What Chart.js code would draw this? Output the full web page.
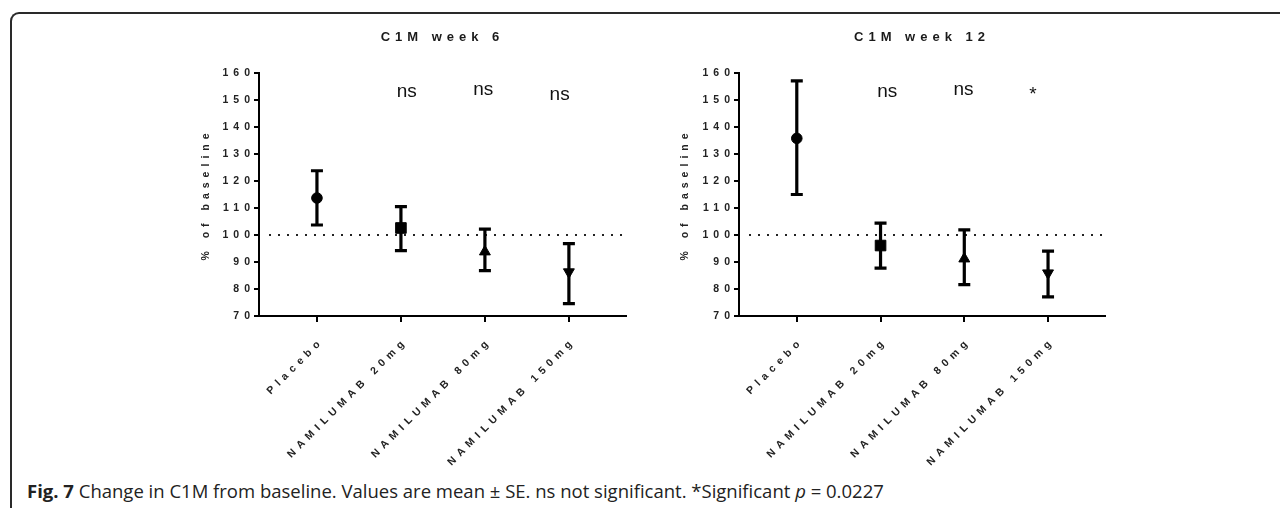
<!DOCTYPE html>
<html>
<head>
<meta charset="utf-8">
<script src="https://cdn.jsdelivr.net/npm/chart.js@4.4.1/dist/chart.umd.min.js"></script>
<style>
  html, body { margin: 0; padding: 0; background: #fff; width: 1280px; height: 508px; overflow: hidden; }
  #frame { position: absolute; left: 10px; top: 12px; width: 1300px; height: 520px;
           border-top: 2px solid #2a2a2a; border-left: 2px solid #2a2a2a; border-top-left-radius: 9px; box-sizing: border-box; }
  .wrap { position: absolute; top: 0; width: 485px; height: 476px; }
  #w1 { left: 150px; }
  #w2 { left: 632px; }
  #caption { position: absolute; left: 27px; top: 478px; font-family: "Open Sans", sans-serif; font-size: 18.5px;
             line-height: 25px; color: #222; white-space: nowrap; }
  #caption b { font-weight: 700; }
</style>
</head>
<body>
<div id="frame"></div>
<div class="wrap" id="w1"><canvas id="c1" width="485" height="476"></canvas></div>
<div class="wrap" id="w2"><canvas id="c2" width="485" height="476"></canvas></div>
<div id="caption"><b>Fig. 7</b> Change in C1M from baseline. Values are mean ± SE. ns not significant. *Significant <i>p</i> = 0.0227</div>
<script>
// ---- data ----
const categories = ['Placebo', 'NAMILUMAB 20mg', 'NAMILUMAB 80mg', 'NAMILUMAB 150mg'];
const yTickValues = [70, 80, 90, 100, 110, 120, 130, 140, 150, 160];
const baselineValue = 100;

const week6Mean  = [113.7, 102.6, 93.8, 86.3];
const week6Upper = [123.8, 110.5, 102.2, 96.8];
const week6Lower = [103.7, 94.2, 86.8, 74.6];
const week6SigText = ['ns', 'ns', 'ns'];
const week6SigX = [1.07, 1.98, 2.89];
const week6SigY = [151.1, 151.7, 150.0];

const week12Mean  = [135.8, 96.1, 91.2, 85.9];
const week12Upper = [157.1, 104.4, 101.9, 94.0];
const week12Lower = [115.0, 87.7, 81.6, 77.1];
const week12SigText = ['ns', 'ns', '*'];
const week12SigX = [1.08, 1.99, 2.82];
const week12SigY = [151.1, 151.7, 150.0];

// ---- helpers ----
const SPACING = '5px';
const spacingPlugin = {
  id: 'spacing',
  beforeUpdate(chart) { chart.ctx.letterSpacing = SPACING; },
  beforeLayout(chart) { chart.ctx.letterSpacing = SPACING; },
  beforeDraw(chart) { chart.ctx.letterSpacing = SPACING; }
};

function errorPlugin(lower, upper) {
  return {
    id: 'errbars',
    beforeDatasetsDraw(chart) {
      const ctx = chart.ctx, xs = chart.scales.x, ys = chart.scales.y, a = chart.chartArea;
      ctx.save();
      const yb = ys.getPixelForValue(baselineValue);
      ctx.strokeStyle = '#222';
      ctx.lineWidth = 2;
      ctx.setLineDash([2, 7]);
      ctx.beginPath();
      ctx.moveTo(a.left + 10, yb);
      ctx.lineTo(a.right - 2, yb);
      ctx.stroke();
      ctx.setLineDash([]);
      ctx.strokeStyle = '#000';
      ctx.lineWidth = 3.2;
      for (let i = 0; i < categories.length; i++) {
        const x = xs.getPixelForValue(i);
        const y1 = ys.getPixelForValue(upper[i]);
        const y2 = ys.getPixelForValue(lower[i]);
        ctx.beginPath();
        ctx.moveTo(x, y1); ctx.lineTo(x, y2);
        ctx.moveTo(x - 6, y1); ctx.lineTo(x + 6, y1);
        ctx.moveTo(x - 6, y2); ctx.lineTo(x + 6, y2);
        ctx.stroke();
      }
      ctx.restore();
    }
  };
}

function sigPlugin(texts, xv, yv) {
  return {
    id: 'sig',
    afterDraw(chart) {
      const ctx = chart.ctx, xs = chart.scales.x, ys = chart.scales.y;
      ctx.save();
      ctx.letterSpacing = '0px';
      ctx.font = '19px "Liberation Sans", Arial, sans-serif';
      ctx.fillStyle = '#111';
      ctx.textAlign = 'center';
      ctx.textBaseline = 'alphabetic';
      for (let i = 0; i < texts.length; i++) {
        ctx.fillText(texts[i], xs.getPixelForValue(xv[i]), ys.getPixelForValue(yv[i]));
      }
      ctx.restore();
    }
  };
}

const FONT = '"Liberation Sans", Arial, sans-serif';

function makeChart(id, title, mean, lower, upper, sigT, sigX, sigY, padL, yW, padR) {
  const pts = mean.map((v, i) => ({ x: i, y: v }));
  return new Chart(document.getElementById(id), {
    type: 'scatter',
    data: {
      datasets: [{
        data: pts,
        pointStyle: ['circle', 'rect', 'triangle', 'triangle'],
        rotation: [0, 0, 0, 180],
        pointRadius: [5.3, 7.5, 6.3, 6.3],
        backgroundColor: '#000',
        borderColor: '#000',
        borderWidth: 1,
        showLine: false
      }]
    },
    options: {
      responsive: false,
      animation: false,
      events: [],
      layout: { padding: { left: padL, right: padR, top: 0, bottom: 0 } },
      plugins: {
        legend: { display: false },
        tooltip: { enabled: false },
        title: {
          display: true, text: title, fullSize: false, color: '#1a1a1a',
          font: { family: FONT, size: 13, weight: 'bold', lineHeight: 1.2 },
          padding: { top: 29.2, bottom: 28.2 }
        }
      },
      scales: {
        x: {
          type: 'linear', min: -0.69, max: 3.68,
          afterBuildTicks: (s) => { s.ticks = categories.map((c, i) => ({ value: i })); },
          afterFit: (s) => { s.height = 160; },
          border: { display: true, color: '#000', width: 2 },
          grid: { display: true, drawOnChartArea: false, drawTicks: true, tickLength: 6, color: '#000', lineWidth: 2 },
          ticks: {
            autoSkip: false, minRotation: 45, maxRotation: 45, padding: 13, labelOffset: 5, color: '#222',
            font: { family: FONT, size: 10.5, weight: 'bold' },
            callback: (v) => categories[v]
          }
        },
        y: {
          min: 70, max: 160,
          afterBuildTicks: (s) => { s.ticks = yTickValues.map(v => ({ value: v })); },
          afterFit: (s) => { s.width = yW; },
          border: { display: true, color: '#000', width: 2 },
          grid: { display: true, drawOnChartArea: false, drawTicks: true, tickLength: 5, color: '#000', lineWidth: 2 },
          ticks: {
            padding: -1, color: '#222',
            font: { family: FONT, size: 10.5, weight: 'bold' }
          },
          title: {
            display: true, text: '% of baseline', color: '#222',
            font: { family: FONT, size: 10.5, weight: 'bold' }
          }
        }
      }
    },
    plugins: [spacingPlugin, errorPlugin(lower, upper), sigPlugin(sigT, sigX, sigY)]
  });
}

makeChart('c1', 'C1M week 6', week6Mean, week6Lower, week6Upper, week6SigText, week6SigX, week6SigY, 46, 63, 9);
makeChart('c2', 'C1M week 12', week12Mean, week12Lower, week12Upper, week12SigText, week12SigX, week12SigY, 43, 64, 12);
</script>
</body>
</html>
